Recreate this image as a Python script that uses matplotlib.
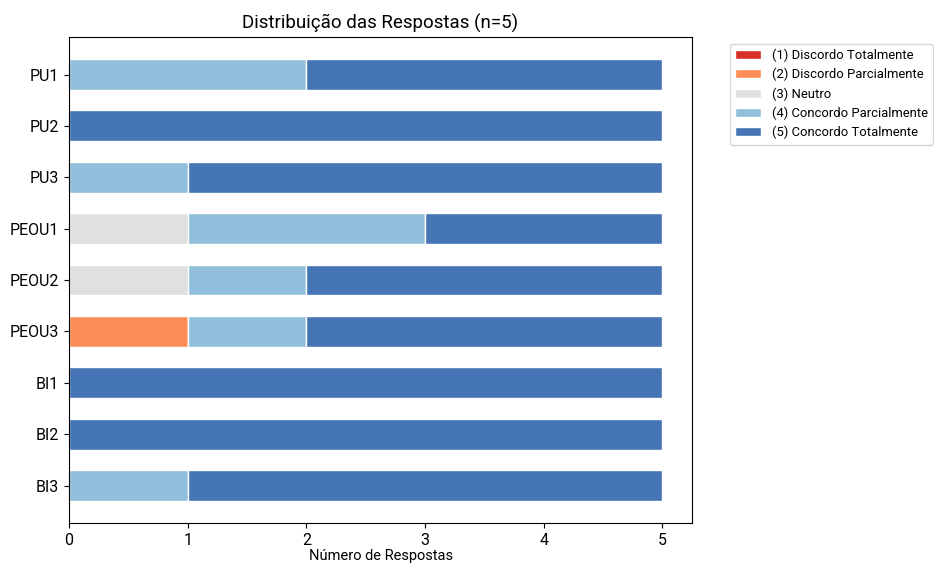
import matplotlib
matplotlib.use('Agg')
import matplotlib.pyplot as plt
import numpy as np

plt.rcParams['font.family'] = ['Roboto', 'DejaVu Sans']

# dados
itens = ['PU1', 'PU2', 'PU3', 'PEOU1', 'PEOU2', 'PEOU3', 'BI1', 'BI2', 'BI3']
escala = ['(1) Discordo Totalmente', '(2) Discordo Parcialmente', '(3) Neutro',
          '(4) Concordo Parcialmente', '(5) Concordo Totalmente']
cores = ['#d73027', '#fc8d59', '#e0e0e0', '#91bfdb', '#4575b4']

r1 = [0, 0, 0, 0, 0, 0, 0, 0, 0]
r2 = [0, 0, 0, 0, 0, 1, 0, 0, 0]
r3 = [0, 0, 0, 1, 1, 0, 0, 0, 0]
r4 = [2, 0, 1, 2, 1, 1, 0, 0, 1]
r5 = [3, 5, 4, 2, 3, 3, 5, 5, 4]

contagens = [r1, r2, r3, r4, r5]

fig = plt.figure(figsize=(9.34, 5.65), dpi=100)
ax = fig.add_axes([0.0739, 0.0743, 0.6671, 0.8602])

y = np.arange(len(itens))
base = np.zeros(len(itens))
for vals, nome, cor in zip(contagens, escala, cores):
    vals = np.array(vals, dtype=float)
    ax.barh(y, vals, left=base, height=0.6, color=cor, edgecolor='white',
            linewidth=1, label=nome)
    base += vals

ax.set_yticks(y)
ax.set_yticklabels(itens, fontsize=11.5)
ax.invert_yaxis()
ax.tick_params(axis='x', labelsize=11.5)
ax.set_xlabel('Número de Respostas', fontsize=10.5, labelpad=1)
ax.set_title('Distribuição das Respostas (n=5)', fontsize=13.5)
ax.legend(bbox_to_anchor=(1.05, 1), loc='upper left', fontsize=9.4,
          labelspacing=0.45)

plt.savefig('out.png', dpi=100)
